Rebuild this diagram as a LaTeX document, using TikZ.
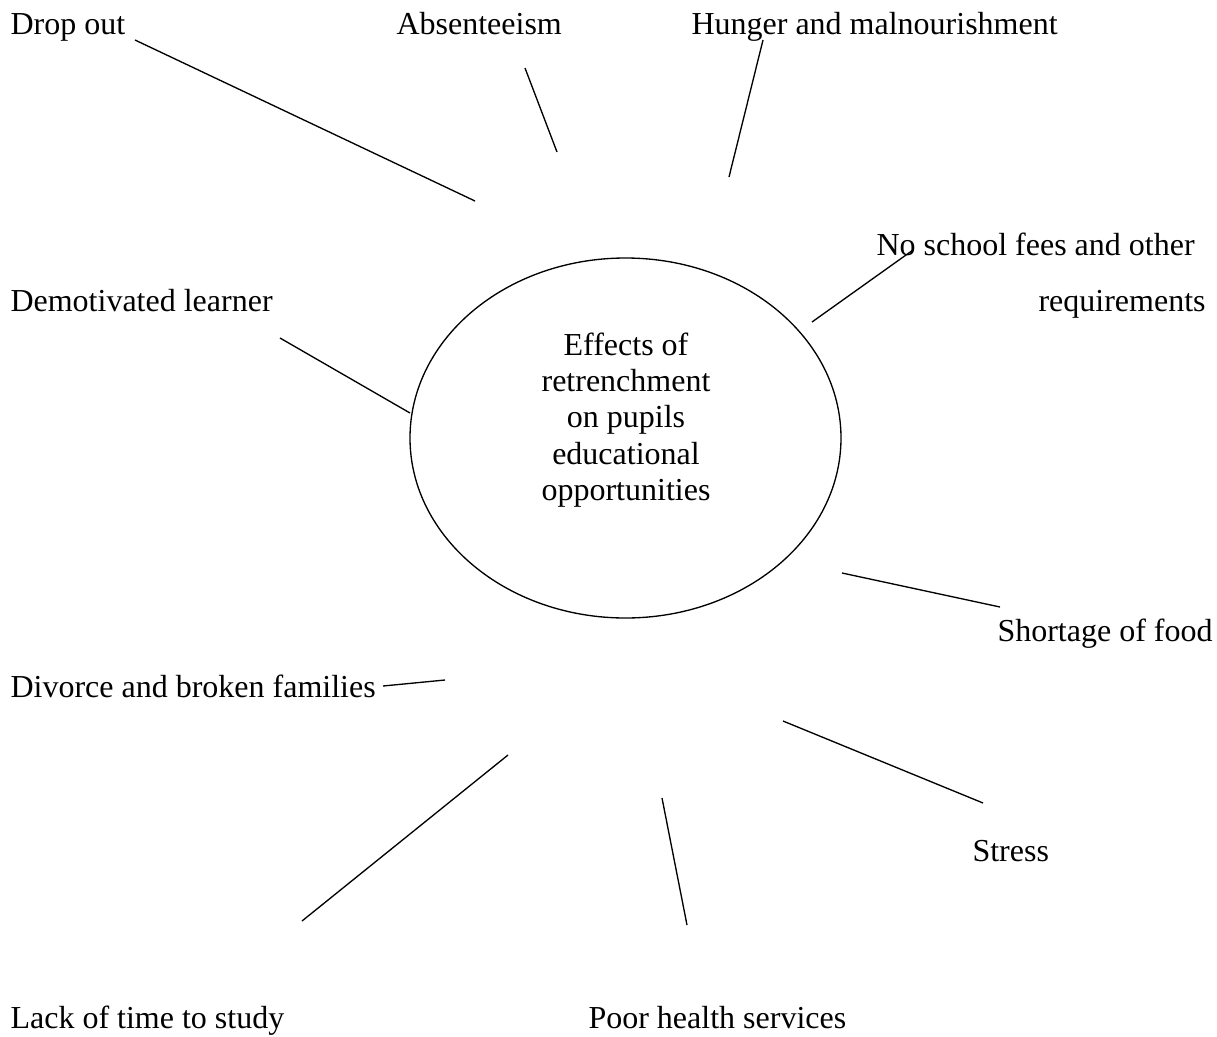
\documentclass[tikz,border=0pt]{standalone}
\usepackage{fontspec}
\setmainfont{Liberation Serif}
\usetikzlibrary{shapes.geometric}
\begin{document}
\begin{tikzpicture}[x=0.375pt,y=-0.375pt,
  lbl/.style={inner sep=0pt,anchor=base west,font=\fontsize{12pt}{13.6pt}\selectfont},
  conn/.style={draw=black,line width=0.5pt}]
\useasboundingbox (0,0) rectangle (1217,1036);
\node[draw,ellipse,line width=0.5pt,minimum width=431*0.375pt,minimum height=360*0.375pt,inner sep=0pt] (c) at (625.5,438) {};
\node[align=center,inner sep=0pt,font=\fontsize{12pt}{13.6pt}\selectfont] (ct) at (626,420) {Effects of\\retrenchment\\on pupils\\educational\\opportunities};
\node[lbl] (drop) at (10,34) {Drop out};
\node[lbl] (abs) at (396,34) {Absenteeism};
\node[lbl] (hun) at (691,34) {Hunger and malnourishment};
\node[lbl] (fees) at (876,255) {No school fees and other};
\node[lbl] (req) at (1038,311) {requirements};
\node[lbl] (dem) at (10,311) {Demotivated learner};
\node[lbl] (food) at (997,641) {Shortage of food};
\node[lbl] (div) at (10,697) {Divorce and broken families};
\node[lbl] (str) at (972,861) {Stress};
\node[lbl] (lack) at (10,1028) {Lack of time to study};
\node[lbl] (poor) at (588,1028) {Poor health services};
\coordinate (a1) at (135,40); \coordinate (a2) at (475,201);
\coordinate (b1) at (525,68); \coordinate (b2) at (557,152);
\coordinate (h1) at (763,40); \coordinate (h2) at (729,177);
\coordinate (f1) at (913,250); \coordinate (f2) at (812,322);
\coordinate (d1) at (280,338); \coordinate (d2) at (410,413);
\coordinate (s1) at (842,573); \coordinate (s2) at (1000,607);
\coordinate (v1) at (383,686); \coordinate (v2) at (445,680);
\coordinate (t1) at (783,721); \coordinate (t2) at (983,803);
\coordinate (l1) at (508,755); \coordinate (l2) at (302,921);
\coordinate (p1) at (662,798); \coordinate (p2) at (687,925);
\draw[conn] (a1) -- (a2);
\draw[conn] (b1) -- (b2);
\draw[conn] (h1) -- (h2);
\draw[conn] (f1) -- (f2);
\draw[conn] (d1) -- (d2);
\draw[conn] (s1) -- (s2);
\draw[conn] (v1) -- (v2);
\draw[conn] (t1) -- (t2);
\draw[conn] (l1) -- (l2);
\draw[conn] (p1) -- (p2);
\end{tikzpicture}
\end{document}
